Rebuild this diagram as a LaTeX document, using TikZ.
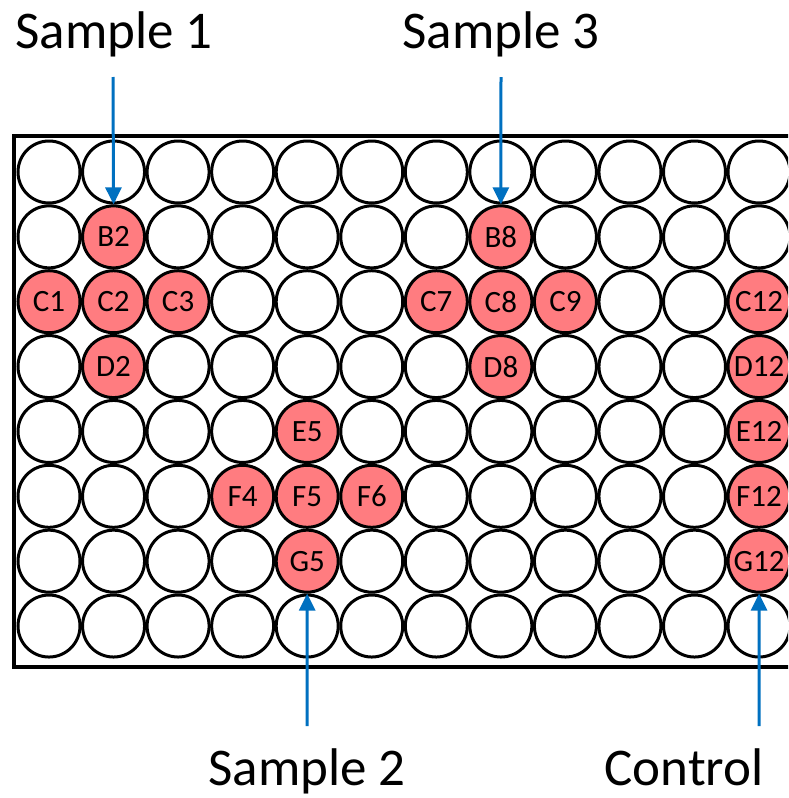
\documentclass[tikz,border=0pt]{standalone}
\usepackage{fontspec}
\setmainfont{Carlito}
\usetikzlibrary{arrows.meta}
\definecolor{wellred}{RGB}{255,124,128}
\definecolor{arrowblue}{RGB}{0,112,192}
\newcommand\markred[1]{\expandafter\gdef\csname red@#1\endcsname{}}
\markred{B2}\markred{C1}\markred{C2}\markred{C3}\markred{D2}
\markred{B8}\markred{C7}\markred{C8}\markred{C9}\markred{D8}
\markred{E5}\markred{F4}\markred{F5}\markred{F6}\markred{G5}
\markred{C12}\markred{D12}\markred{E12}\markred{F12}\markred{G12}
\tikzset{
  well/.style={circle, draw=black, line width=3pt, fill=white, minimum size=62pt, inner sep=0pt},
  redwell/.style={well, fill=wellred, font=\fontsize{31}{34}\selectfont},
  plate/.style={draw=black, line width=4.5pt},
  arr/.style={draw=arrowblue, line width=3pt, -{Triangle[length=17pt,width=16pt]}},
  lbl/.style={font=\fontsize{53}{60}\selectfont, anchor=base, inner sep=0pt},
}
\begin{document}
\begin{tikzpicture}[x=1pt,y=-1pt]
\useasboundingbox (0,0) rectangle (788,798);
\clip (0,0) rectangle (788,798);
\draw[plate] (14,136) rectangle (820,667);
% white wells
\foreach \r [count=\ri] in {A,B,C,D,E,F,G,H} {
  \foreach \c in {1,...,12} {
    \ifcsname red@\r\c\endcsname\else
      \node[well] (\r\c) at ({49+(\c-1)*64.55},{172+(\ri-1)*64.86}) {};
    \fi
  }
}
% sample wells
\foreach \r [count=\ri] in {A,B,C,D,E,F,G,H} {
  \foreach \c in {1,...,12} {
    \ifcsname red@\r\c\endcsname
      \node[redwell] (\r\c) at ({49+(\c-1)*64.55},{172+(\ri-1)*64.86}) {\r\c};
    \fi
  }
}
% labels
\node[lbl] (s1) at (114,48) {Sample 1};
\node[lbl] (s3) at (501,48) {Sample 3};
\node[lbl] (s2) at (307,785) {Sample 2};
\node[lbl] (ctl) at (684,785) {Control};
\coordinate (s1a) at (113,77);
\coordinate (s3a) at (501,77);
\coordinate (s2a) at (307.2,726);
\coordinate (ctla) at (759,726);
\draw[arr] (s1a) -- (B2.north);
\draw[arr] (s3a) -- (B8.north);
\draw[arr] (s2a) -- (G5.south);
\draw[arr] (ctla) -- (G12.south);
\end{tikzpicture}
\end{document}
